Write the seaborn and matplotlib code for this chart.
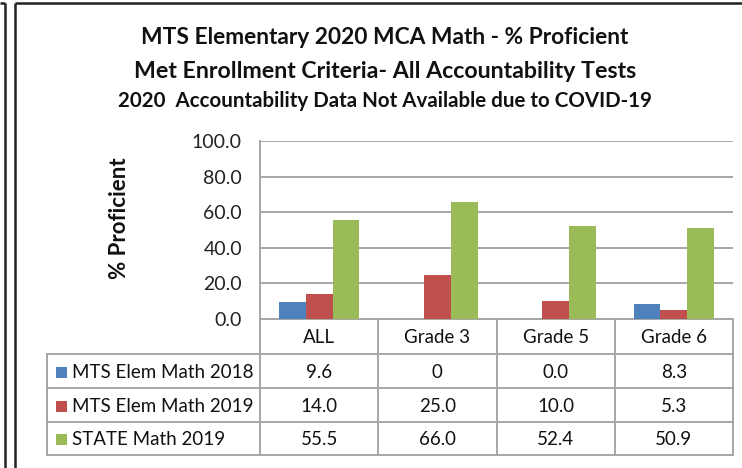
import matplotlib
matplotlib.use("Agg")
import matplotlib.pyplot as plt
import matplotlib.transforms as mtransforms
from matplotlib.lines import Line2D
from matplotlib.patches import Rectangle
import seaborn as sns
import pandas as pd

# ---------------- data ----------------
categories = ["ALL", "Grade 3", "Grade 5", "Grade 6"]
series_names = ["MTS Elem Math 2018", "MTS Elem Math 2019", "STATE Math 2019"]
math_2018 = [9.6, 0.0, 0.0, 8.3]
math_2019 = [14.0, 25.0, 10.0, 5.3]
state_2019 = [55.5, 66.0, 52.4, 50.9]
table_text_2018 = ["9.6", "0", "0.0", "8.3"]
table_text_2019 = ["14.0", "25.0", "10.0", "5.3"]
table_text_state = ["55.5", "66.0", "52.4", "50.9"]
y_ticks = [0, 20, 40, 60, 80, 100]
title_lines = ["MTS Elementary 2020 MCA Math - % Proficient",
               "Met Enrollment Criteria- All Accountability Tests",
               "2020  Accountability Data Not Available due to COVID-19"]
y_label = "% Proficient"

colors = ["#4F81BD", "#C0504D", "#9BBB59"]

# ---------------- setup ----------------
sns.set_theme(style="white")
FONT = "Lato"
plt.rcParams["font.family"] = [FONT, "DejaVu Sans"]

W, H = 742, 468
DPI = 100
fig = plt.figure(figsize=(W / DPI, H / DPI), dpi=DPI)
fig.patch.set_facecolor("white")

# background axes in pixel coordinates
bg = fig.add_axes([0, 0, 1, 1], zorder=0)
bg.set_xlim(0, W)
bg.set_ylim(H, 0)
bg.axis("off")

# plot area
px_left, px_right, px_top, px_bottom = 260, 733, 141, 319
ax = fig.add_axes([px_left / W, (H - px_bottom) / H,
                   (px_right - px_left) / W, (px_bottom - px_top) / H], zorder=2)

df = pd.DataFrame({
    "category": categories * 3,
    "series": [series_names[0]] * 4 + [series_names[1]] * 4 + [series_names[2]] * 4,
    "value": math_2018 + math_2019 + state_2019,
})
sns.barplot(data=df, x="category", y="value", hue="series", order=categories,
            hue_order=series_names, palette=colors, saturation=1, width=0.68,
            gap=0, linewidth=0, legend=False, ax=ax, zorder=3)

ax.set_xlim(-0.5, len(categories) - 0.5)
ax.set_ylim(0, 100)
ax.set_yticks(y_ticks)
ax.set_yticklabels([f"{t:.1f}" for t in y_ticks], fontsize=14, color="#222222")
ax.tick_params(axis="y", length=0, pad=13)
ax.set_xticks([])
ax.set_xlabel("")
ax.set_ylabel("")
grid_c = "#A6A6A6"
ax.yaxis.grid(True, color=grid_c, linewidth=1.4, zorder=0)
ax.set_axisbelow(True)
for s in ["top", "right", "bottom"]:
    ax.spines[s].set_visible(False)
ax.spines["left"].set_color(grid_c)
ax.spines["left"].set_linewidth(1.4)
ax.patch.set_alpha(0)

# y label
fig.text(120 / W, 1 - 218 / H, y_label, rotation=90, ha="center", va="center",
         fontsize=16, fontweight="bold", color="#111111")

# titles (fit to measured widths)
title_specs = [(37, 490, "bold"), (71, 504, "bold"), (101, 535, "bold")]
fig.canvas.draw()
renderer = fig.canvas.get_renderer()
for line, (yc, target_w, wt) in zip(title_lines, title_specs):
    t = fig.text(385 / W, 1 - yc / H, line, ha="center", va="center",
                 fontsize=16, fontweight=wt, color="#111111")
    w = t.get_window_extent(renderer).width
    t.set_fontsize(16 * target_w / w)

# frame lines
frame_kw = dict(color="#222222", linewidth=1.8, solid_capstyle="butt")
bg.add_line(Line2D([4.5, 4.5], [3, H], **frame_kw))
bg.add_line(Line2D([0, 4.5], [3, 3], **frame_kw))
bg.add_line(Line2D([14.5, 14.5], [3, H], **frame_kw))
bg.add_line(Line2D([14.5, W], [3, 3], **frame_kw))

# ---------------- data table ----------------
tab_c = "#A6A6A6"
tab_lw = 1.4
tbl_left = 47
row_edges = [319, 354, 388, 422, 455]
col_trans = mtransforms.blended_transform_factory(ax.transData, bg.transData)
ncat = len(categories)
# horizontal lines
for i, y in enumerate(row_edges):
    x0 = tbl_left if i >= 1 else px_left
    bg.add_line(Line2D([x0, px_right], [y, y], color=tab_c, lw=tab_lw))
# vertical lines
bg.add_line(Line2D([tbl_left, tbl_left], [row_edges[1], row_edges[-1]], color=tab_c, lw=tab_lw))
for k in range(ncat + 1):
    bg.add_line(Line2D([k - 0.5, k - 0.5], [row_edges[0], row_edges[-1]], color=tab_c,
                       lw=tab_lw, transform=col_trans))

cell_fs = 13.5
for k, cat in enumerate(categories):
    bg.text(k, (row_edges[0] + row_edges[1]) / 2 + 1, cat, transform=col_trans,
            ha="center", va="center", fontsize=cell_fs, color="#111111")

rows = [table_text_2018, table_text_2019, table_text_state]
for r, (name, vals, c) in enumerate(zip(series_names, rows, colors)):
    yc = (row_edges[r + 1] + row_edges[r + 2]) / 2 + 1
    bg.add_patch(Rectangle((56, yc - 5.5), 11, 11, facecolor=c, edgecolor="none"))
    bg.text(72, yc, name, ha="left", va="center", fontsize=cell_fs, color="#111111")
    for k, v in enumerate(vals):
        bg.text(k, yc, v, transform=col_trans, ha="center", va="center",
                fontsize=cell_fs, color="#111111")

fig.savefig("out.png", dpi=DPI, facecolor="white")
